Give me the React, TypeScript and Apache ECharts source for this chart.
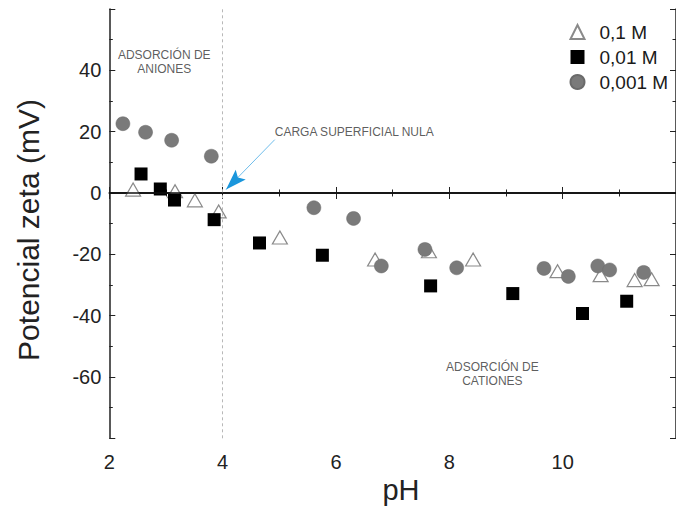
import React, { useEffect, useRef } from "react";
import * as echarts from "echarts";

const seriesNames = ["0,1 M", "0,01 M", "0,001 M"];

const phTriangles = [2.42, 3.16, 3.51, 3.93, 5.01, 6.69, 7.64, 8.42, 9.91, 10.67, 11.27, 11.57];
const zetaTriangles = [1.1, 0.6, -2.4, -6.0, -14.5, -21.7, -19.0, -21.7, -25.5, -26.8, -28.4, -28.1];

const phSquares = [2.56, 2.9, 3.15, 3.85, 4.65, 5.76, 7.67, 9.12, 10.35, 11.13];
const zetaSquares = [6.2, 1.3, -2.3, -8.7, -16.3, -20.3, -30.3, -32.8, -39.3, -35.3];

const phCircles = [2.24, 2.64, 3.1, 3.8, 5.61, 6.31, 6.8, 7.57, 8.13, 9.67, 10.1, 10.62, 10.83, 11.43];
const zetaCircles = [22.6, 19.8, 17.2, 12.0, -4.8, -8.3, -23.8, -18.4, -24.4, -24.6, -27.2, -23.8, -25.1, -25.9];

const annotationTexts = ["ADSORCIÓN DE\nANIONES", "CARGA SUPERFICIAL NULA", "ADSORCIÓN DE\nCATIONES"];
const annotationPh = [2.97, 4.92, 8.76];
const annotationZeta = [42.6, 19.9, -59.05];
const annotationAlign = ["center", "left", "center"];

const arrowFrom = [4.92, 17.4];
const arrowTo = [4.06, 1.1];
const pzcPh = 4;

const xTitle = "pH";
const yTitle = "Potencial zeta (mV)";

const FONT = "'Liberation Sans', Arial, sans-serif";

function zip(xs: number[], ys: number[]) {
  return xs.map((x, i) => [x, ys[i]]);
}

export default function App() {
  const ref = useRef<HTMLDivElement>(null);

  useEffect(() => {
    document.body.style.margin = "0";
    if (!ref.current) return;
    const chart = echarts.init(ref.current, null, { renderer: "svg" });

    const axisLine = { show: true, lineStyle: { color: "#222", width: 1.5 } };
    const tickStyle = { color: "#222", width: 1 };

    const titles = [
      {
        type: "text",
        x: 28,
        y: 230,
        rotation: Math.PI / 2,
        style: {
          text: yTitle,
          fontSize: 30,
          fontFamily: FONT,
          fill: "#222",
          align: "center",
          verticalAlign: "middle",
        },
      },
      {
        type: "text",
        x: 401,
        y: 490,
        style: {
          text: xTitle,
          fontSize: 29,
          fontFamily: FONT,
          fill: "#222",
          align: "center",
          verticalAlign: "middle",
        },
      },
    ];

    const option: any = {
      animation: false,
      backgroundColor: "#fff",
      grid: { left: 109.3, right: -6, top: 9, bottom: 69.7, containLabel: false },
      xAxis: [
        {
          type: "value",
          position: "bottom",
          min: 2,
          max: 12,
          interval: 2,
          axisLine,
          axisTick: { show: true, inside: true, length: 6, lineStyle: tickStyle },
          minorTick: { show: true, splitNumber: 2, length: 3.5, lineStyle: tickStyle },
          splitLine: { show: false },
          axisLabel: {
            show: true,
            margin: 14,
            fontSize: 20,
            color: "#222",
            fontFamily: FONT,
            showMaxLabel: false,
          },
        },
        {
          type: "value",
          position: "top",
          min: 2,
          max: 12,
          interval: 2,
          axisLine,
          axisTick: { show: true, inside: true, length: 6, lineStyle: tickStyle },
          minorTick: { show: true, splitNumber: 2, length: 3.5, lineStyle: tickStyle },
          splitLine: { show: false },
          axisLabel: { show: false },
        },
      ],
      yAxis: [
        {
          type: "value",
          position: "left",
          min: -80,
          max: 60,
          interval: 20,
          axisLine,
          axisTick: { show: true, inside: true, length: 6, lineStyle: tickStyle },
          minorTick: { show: true, splitNumber: 2, length: 3.5, lineStyle: tickStyle },
          splitLine: { show: false },
          axisLabel: {
            show: true,
            margin: 8,
            fontSize: 20,
            color: "#222",
            fontFamily: FONT,
            formatter: (v: number) => (v === -80 || v === 60 ? "" : String(v)),
          },
        },
        {
          type: "value",
          position: "right",
          min: -80,
          max: 60,
          interval: 20,
          axisLine,
          axisTick: { show: true, inside: true, length: 6, lineStyle: tickStyle },
          minorTick: { show: true, splitNumber: 2, length: 3.5, lineStyle: tickStyle },
          splitLine: { show: false },
          axisLabel: { show: false },
        },
      ],
      legend: {
        data: seriesNames,
        orient: "vertical",
        left: 569.5,
        top: 22.5,
        padding: 0,
        itemWidth: 14,
        itemHeight: 14,
        itemGap: 6,
        textStyle: {
          fontSize: 19,
          lineHeight: 19,
          color: "#1a1a1a",
          fontFamily: FONT,
          padding: [0, 0, 0, 10],
        },
      },
      graphic: titles,
      series: [
        {
          name: seriesNames[0],
          type: "scatter",
          symbol: "triangle",
          symbolSize: [15, 13],
          itemStyle: { color: "#ffffff", borderColor: "#8a8a8a", borderWidth: 1.2, opacity: 1 },
          data: zip(phTriangles, zetaTriangles),
          z: 3,
          markLine: {
            silent: true,
            symbol: "none",
            label: { show: false },
            animation: false,
            data: [
              { yAxis: 0, lineStyle: { color: "#111", width: 1.5, type: "solid" } },
              { xAxis: pzcPh, lineStyle: { color: "#b8b8b8", width: 1, type: [3, 3] } },
              [
                { coord: arrowFrom },
                { coord: arrowTo },
              ],
            ],
            lineStyle: { color: "#6fbdeb", width: 1, type: "solid" },
          },
        },
        {
          name: seriesNames[1],
          type: "scatter",
          symbol: "rect",
          symbolSize: 13,
          itemStyle: { color: "#000000", opacity: 1 },
          data: zip(phSquares, zetaSquares),
          z: 4,
        },
        {
          name: seriesNames[2],
          type: "scatter",
          symbol: "circle",
          symbolSize: 14,
          itemStyle: { color: "#7a7a7a", borderColor: "#6a6a6a", borderWidth: 0.5, opacity: 1 },
          data: zip(phCircles, zetaCircles),
          z: 5,
        },
        {
          name: "annotations",
          type: "scatter",
          symbolSize: 0,
          silent: true,
          data: annotationTexts.map((t, i) => ({
            value: [annotationPh[i], annotationZeta[i]],
            label: {
              show: true,
              formatter: t,
              position: annotationAlign[i] === "left" ? "right" : "inside",
              distance: 0,
              align: annotationAlign[i],
              verticalAlign: "middle",
              fontSize: 12,
              lineHeight: 14,
              color: "#333",
              fontFamily: FONT,
            },
          })),
        },
      ],
    };

    chart.setOption(option);

    // arrowhead, placed from the data coordinates of the arrow
    const p0 = chart.convertToPixel({ gridIndex: 0 }, arrowFrom) as number[];
    const p1 = chart.convertToPixel({ gridIndex: 0 }, arrowTo) as number[];
    if (p0 && p1) {
      const dx = p1[0] - p0[0];
      const dy = p1[1] - p0[1];
      const len = Math.sqrt(dx * dx + dy * dy) || 1;
      const ux = dx / len;
      const uy = dy / len;
      const nx = -uy;
      const ny = ux;
      const headLen = 21;
      const halfW = 7;
      const notch = 4;
      const bx = p1[0] - ux * headLen;
      const by = p1[1] - uy * headLen;
      const points = [
        [p1[0], p1[1]],
        [bx + nx * halfW, by + ny * halfW],
        [bx + ux * notch, by + uy * notch],
        [bx - nx * halfW, by - ny * halfW],
      ];
      chart.setOption({
        graphic: [
          ...titles,
          {
            type: "polygon",
            shape: { points },
            style: { fill: "#1a96dc", stroke: "none" },
            z: 10,
          },
        ],
      });
    }

    return () => chart.dispose();
  }, []);

  return (
    <div
      ref={ref}
      style={{ position: "absolute", left: 0, top: 0, width: 676, height: 508 }}
    />
  );
}
